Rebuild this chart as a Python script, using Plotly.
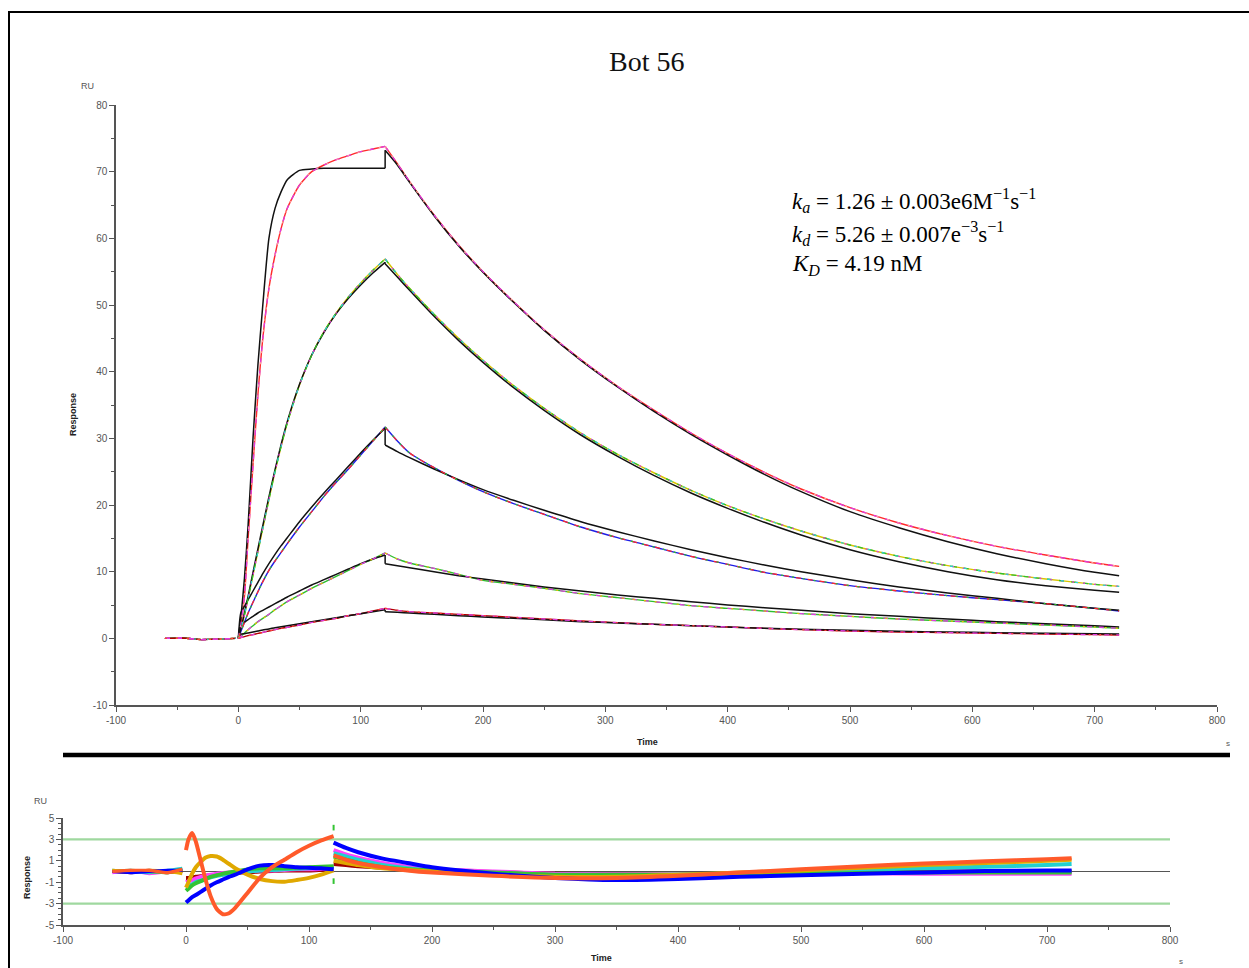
import plotly.graph_objects as go

# ---------------- Sensorgram data (RU vs s) ----------------
t_base = [-60, -45, -30, -15, -2]
t_assoc = [0, 2, 5, 8, 12, 16, 20, 25, 30, 35, 40, 50, 60, 70, 80, 90, 100, 110, 120]
t_diss = [120, 130, 140, 160, 180, 200, 225, 250, 280, 310, 340, 370, 400, 430, 460, 500, 540, 580, 620, 660, 700, 720]

base_resp = [0.0, 0.05, -0.2, -0.1, 0.0]

c1_assoc = [0, 2.0, 6.3, 15, 26, 36.5, 45, 52.5, 57.5, 61.5, 64.5, 68, 70, 71, 71.8, 72.4, 73, 73.4, 73.8]
c2_assoc = [0, 1.2, 3.5, 6, 9.5, 13, 16.5, 20.8, 25, 28.8, 32.3, 38, 42.5, 46, 48.8, 51.2, 53.3, 55.2, 56.9]
c3_assoc = [0, 1.0, 2.4, 3.8, 5.4, 7.0, 8.5, 10.2, 11.6, 12.9, 14.2, 16.7, 19.0, 21.3, 23.4, 25.4, 27.5, 29.6, 31.7]
c4_assoc = [0, 0.3, 0.8, 1.3, 1.9, 2.5, 3.0, 3.6, 4.3, 4.9, 5.5, 6.5, 7.5, 8.4, 9.3, 10.2, 11.1, 11.9, 12.8]
c5_assoc = [0, 0.1, 0.25, 0.4, 0.55, 0.75, 0.9, 1.1, 1.3, 1.5, 1.65, 2.0, 2.4, 2.7, 3.0, 3.4, 3.7, 4.1, 4.5]

c1_diss = [73.8, 71.2, 68.5, 63.5, 59, 55, 50.5, 46.3, 41.8, 37.8, 34.2, 30.8, 27.7, 24.9, 22.4, 19.6, 17.3, 15.4, 13.8, 12.5, 11.3, 10.8]
c2_diss = [56.9, 54.6, 52.5, 48.6, 45, 41.7, 37.9, 34.5, 30.8, 27.6, 24.8, 22.2, 19.9, 17.9, 16.1, 14, 12.3, 10.9, 9.8, 8.9, 8.1, 7.8]
c3_diss = [31.7, 29.6, 27.8, 25.6, 23.7, 22.0, 20.2, 18.6, 16.7, 15.1, 13.7, 12.3, 11.1, 9.9, 9.0, 7.9, 7.1, 6.4, 5.8, 5.2, 4.5, 4.1]
c4_diss = [12.8, 11.9, 11.3, 10.5, 9.6, 8.7, 8.1, 7.5, 6.7, 6.1, 5.5, 4.9, 4.5, 4.1, 3.7, 3.3, 2.9, 2.6, 2.3, 2.0, 1.7, 1.5]
c5_diss = [4.5, 4.2, 4.0, 3.8, 3.6, 3.4, 3.15, 2.9, 2.6, 2.35, 2.1, 1.9, 1.7, 1.5, 1.3, 1.1, 0.95, 0.85, 0.75, 0.65, 0.55, 0.5]

# fitted (black) curves
f1_assoc = [0, 3, 9, 17, 30, 41, 50, 60, 64.5, 67, 68.8, 70.2, 70.4, 70.5, 70.5, 70.5, 70.5, 70.5, 70.5]
f2_assoc = [0, 1.4, 3.8, 6.3, 9.9, 13.4, 16.9, 21.2, 25.3, 29.1, 32.5, 38.1, 42.5, 45.9, 48.7, 51.0, 53.0, 54.8, 56.4]
f3_assoc = [0, 3.8, 4.8, 5.8, 7.1, 8.4, 9.7, 11.2, 12.6, 13.9, 15.1, 17.5, 19.7, 21.8, 23.8, 25.8, 27.8, 29.7, 31.5]
f4_assoc = [0, 2.0, 2.4, 2.8, 3.3, 3.8, 4.2, 4.7, 5.2, 5.7, 6.2, 7.1, 8.0, 8.8, 9.6, 10.4, 11.2, 11.9, 12.5]
f5_assoc = [0, 0.6, 0.7, 0.8, 0.95, 1.1, 1.25, 1.4, 1.6, 1.75, 1.9, 2.2, 2.5, 2.8, 3.1, 3.4, 3.7, 4.0, 4.3]

f1_diss = [73.2, 71.0, 68.4, 63.4, 58.9, 54.9, 50.4, 46.2, 41.7, 37.7, 34.0, 30.6, 27.5, 24.6, 22.0, 19.0, 16.6, 14.5, 12.7, 11.2, 9.9, 9.4]
f2_diss = [56.2, 54.2, 52.2, 48.3, 44.7, 41.4, 37.6, 34.2, 30.5, 27.3, 24.4, 21.8, 19.5, 17.4, 15.5, 13.3, 11.5, 10.0, 8.8, 7.9, 7.2, 6.9]
f3_diss = [29.0, 28.0, 27.1, 25.4, 23.8, 22.3, 20.7, 19.2, 17.5, 16.0, 14.6, 13.3, 12.1, 11.0, 10.0, 8.8, 7.7, 6.8, 6.0, 5.2, 4.5, 4.2]
f4_diss = [11.2, 10.9, 10.6, 10.0, 9.4, 8.9, 8.3, 7.7, 7.1, 6.5, 6.0, 5.5, 5.0, 4.6, 4.2, 3.7, 3.3, 2.9, 2.5, 2.2, 1.9, 1.7]
f5_diss = [4.0, 3.9, 3.8, 3.6, 3.4, 3.2, 3.0, 2.8, 2.5, 2.3, 2.1, 1.9, 1.7, 1.5, 1.35, 1.2, 1.05, 0.95, 0.85, 0.75, 0.7, 0.65]

curve_colors = [
    ["#ff2a2a", "#e03ce0", "#ff9a9a"],
    ["#d8c400", "#2fbf2f", "#e03ce0", "#2ed0d0"],
    ["#1e1ee6", "#ff2a2a", "#2fbf2f"],
    ["#2fbf2f", "#e03ce0", "#e8c000"],
    ["#b00000", "#e03ce0", "#ff3a3a"],
]

# tick labels
x_tickvals = [-100, 0, 100, 200, 300, 400, 500, 600, 700, 800]
x_ticktext = ["-100", "0", "100", "200", "300", "400", "500", "600", "700", "800"]
y_tickvals = [-10, 0, 10, 20, 30, 40, 50, 60, 70, 80]
y_ticktext = ["-10", "0", "10", "20", "30", "40", "50", "60", "70", "80"]
yr_tickvals = [-5, -3, -1, 1, 3, 5]
yr_ticktext = ["-5", "-3", "-1", "1", "3", "5"]

# ---------------- Residual data ----------------
tr_base = [-60, -45, -30, -15, -3]
tr_assoc = [0, 2, 5, 8, 12, 16, 20, 25, 30, 35, 40, 50, 60, 70, 80, 90, 100, 110, 120]
tr_diss = [120, 130, 140, 160, 180, 200, 250, 300, 350, 400, 450, 500, 550, 600, 650, 700, 720]

res_base = {
    "darkred": [0.0, -0.1, 0.1, -0.1, 0.0],
    "magenta": [-0.1, 0.1, -0.2, 0.0, 0.2],
    "cyan": [0.1, 0.0, -0.1, 0.1, 0.3],
    "green": [0.0, 0.1, 0.0, -0.1, 0.2],
    "gold": [0.1, 0.0, 0.1, 0.0, -0.2],
    "blue": [0.0, -0.1, 0.0, 0.1, 0.1],
    "orange": [0.0, 0.1, 0.1, -0.1, 0.2],
}
res_assoc = {
    "darkred": [-0.6, -0.6, -0.55, -0.5, -0.45, -0.4, -0.35, -0.3, -0.25, -0.2, -0.15, -0.05, 0.0, 0.05, 0.1, 0.1, 0.1, 0.15, 0.2],
    "magenta": [-1.0, -0.9, -0.8, -0.65, -0.5, -0.4, -0.3, -0.2, -0.15, -0.1, -0.05, 0.0, 0.1, 0.1, 0.15, 0.2, 0.2, 0.25, 0.3],
    "cyan": [-1.5, -1.35, -1.2, -1.0, -0.85, -0.7, -0.55, -0.4, -0.3, -0.2, -0.1, 0.0, 0.1, 0.15, 0.2, 0.25, 0.3, 0.35, 0.4],
    "green": [-1.8, -1.6, -1.3, -1.1, -0.9, -0.7, -0.5, -0.35, -0.2, -0.1, 0.0, 0.2, 0.3, 0.3, 0.3, 0.35, 0.4, 0.45, 0.5],
    "gold": [-1.5, -1.0, -0.2, 0.4, 0.9, 1.3, 1.45, 1.4, 1.1, 0.7, 0.3, -0.3, -0.7, -0.9, -0.95, -0.8, -0.6, -0.3, 0.1],
    "blue": [-2.9, -2.7, -2.4, -2.2, -1.9, -1.6, -1.3, -1.0, -0.75, -0.5, -0.3, 0.2, 0.55, 0.6, 0.5, 0.4, 0.35, 0.3, 0.2],
    "orange": [2.0, 3.0, 3.6, 2.8, 1.0, -0.8, -2.3, -3.5, -4.0, -3.9, -3.4, -2.0, -0.6, 0.4, 1.1, 1.8, 2.4, 2.9, 3.3],
}
res_diss = {
    "darkred": [0.7, 0.6, 0.5, 0.35, 0.2, 0.1, -0.05, -0.2, -0.25, -0.3, -0.2, -0.1, -0.05, 0.0, 0.0, 0.0, 0.0],
    "magenta": [2.0, 1.6, 1.3, 0.8, 0.45, 0.2, 0.0, -0.2, -0.25, -0.3, -0.2, -0.1, -0.15, -0.2, -0.2, -0.2, -0.2],
    "cyan": [1.7, 1.4, 1.1, 0.6, 0.3, 0.1, -0.2, -0.4, -0.4, -0.3, -0.15, 0.0, 0.15, 0.3, 0.45, 0.6, 0.7],
    "green": [1.4, 1.1, 0.8, 0.4, 0.2, 0.1, -0.1, -0.3, -0.3, -0.3, -0.25, -0.2, -0.15, -0.1, -0.1, -0.1, -0.1],
    "gold": [1.0, 0.8, 0.6, 0.3, 0.15, 0.0, -0.3, -0.5, -0.5, -0.3, -0.1, 0.1, 0.35, 0.6, 0.8, 1.0, 1.1],
    "blue": [2.7, 2.2, 1.8, 1.2, 0.8, 0.4, -0.2, -0.6, -0.8, -0.7, -0.5, -0.35, -0.2, -0.1, 0.05, 0.1, 0.1],
    "orange": [1.5, 1.1, 0.8, 0.4, 0.1, -0.1, -0.4, -0.6, -0.6, -0.4, -0.1, 0.2, 0.5, 0.75, 0.95, 1.15, 1.25],
}
res_colors = {
    "darkred": "#a00000",
    "magenta": "#ff40ff",
    "cyan": "#22d0d0",
    "green": "#33c433",
    "gold": "#e0a800",
    "blue": "#0000ff",
    "orange": "#ff5a2a",
}
res_marks_t = [120, 120]
res_marks_v = [4.1, -0.9]

W, H = 1249, 968


def px(x):
    return x / W


def py(y):
    return 1 - y / H


fig = go.Figure()

assoc_all = [c1_assoc, c2_assoc, c3_assoc, c4_assoc, c5_assoc]
diss_all = [c1_diss, c2_diss, c3_diss, c4_diss, c5_diss]
fassoc_all = [f1_assoc, f2_assoc, f3_assoc, f4_assoc, f5_assoc]
fdiss_all = [f1_diss, f2_diss, f3_diss, f4_diss, f5_diss]


def add_line(xs, ys, color, width, dash="solid", xa="x", ya="y", shape="spline"):
    fig.add_trace(go.Scatter(
        x=xs, y=ys, mode="lines", xaxis=xa, yaxis=ya,
        line=dict(color=color, width=width, dash=dash, shape=shape, smoothing=0.6 if shape == "spline" else None),
        showlegend=False, hoverinfo="skip"))


# solid coloured data
for i in range(5):
    col = curve_colors[i][0]
    add_line(t_base, base_resp, col, 1.4, shape="linear")
    add_line(t_assoc, assoc_all[i], col, 1.4)
    add_line(t_diss, diss_all[i], col, 1.4)

# black fits
for i in range(5):
    add_line(t_assoc, fassoc_all[i], "#111111", 1.5)
    add_line(t_diss, fdiss_all[i], "#111111", 1.5)
    add_line([120, 120], [fassoc_all[i][-1], fdiss_all[i][0]], "#111111", 1.5, shape="linear")

# dashed replicate colours on top
dashes = ["solid", "5px,7px", "2px,9px", "3px,11px"]
for i in range(5):
    for j in range(1, len(curve_colors[i])):
        col = curve_colors[i][j]
        add_line(t_assoc, assoc_all[i], col, 1.3, dash=dashes[j])
        add_line(t_diss, diss_all[i], col, 1.3, dash=dashes[j])
        add_line(t_base, base_resp, col, 1.3, dash=dashes[j], shape="linear")

# ---------------- residual plot ----------------
add_line([-100, 800], [3, 3], "#9fd89f", 2.2, xa="x2", ya="y2", shape="linear")
add_line([-100, 800], [-3, -3], "#9fd89f", 2.2, xa="x2", ya="y2", shape="linear")
add_line([-60, 800], [0, 0], "#555555", 1.2, xa="x2", ya="y2", shape="linear")

for key in ["darkred", "magenta", "cyan", "green", "gold", "blue", "orange"]:
    col = res_colors[key]
    add_line(tr_base, res_base[key], col, 3.2, xa="x2", ya="y2")
    add_line(tr_assoc, res_assoc[key], col, 4.0, xa="x2", ya="y2")
    add_line(tr_diss, res_diss[key], col, 4.0, xa="x2", ya="y2")

fig.add_trace(go.Scatter(x=res_marks_t, y=res_marks_v, mode="markers", xaxis="x2", yaxis="y2",
                         marker=dict(color="#33c433", size=4, symbol="line-ns-open",
                                     line=dict(color="#33c433", width=2)),
                         showlegend=False, hoverinfo="skip"))

tickfont = dict(family="Liberation Sans, Arial, sans-serif", size=10, color="#555555")
axis_common = dict(showline=True, linecolor="#555555", linewidth=1.5, ticks="outside",
                   ticklen=5, tickwidth=1.3, tickcolor="#555555", showgrid=False, zeroline=False,
                   tickfont=tickfont, fixedrange=True, automargin=False)

fig.update_layout(
    width=W, height=H,
    margin=dict(l=0, r=0, t=0, b=0, autoexpand=False),
    paper_bgcolor="white", plot_bgcolor="white",
    xaxis=dict(domain=[px(116), px(1217)], range=[-100, 800], tickvals=x_tickvals, ticktext=x_ticktext,
               anchor="y", minor=dict(dtick=50, ticks="outside", ticklen=3, tickcolor="#555555"), **axis_common),
    yaxis=dict(domain=[py(705), py(105)], range=[-10, 80], tickvals=y_tickvals, ticktext=y_ticktext,
               anchor="x", minor=dict(dtick=5, ticks="outside", ticklen=3, tickcolor="#555555"), **axis_common),
    xaxis2=dict(domain=[px(63), px(1170)], range=[-100, 800], tickvals=x_tickvals, ticktext=x_ticktext,
                anchor="y2", minor=dict(dtick=50, ticks="outside", ticklen=3, tickcolor="#555555"), **axis_common),
    yaxis2=dict(domain=[py(925), py(818)], range=[-5, 5], tickvals=yr_tickvals, ticktext=yr_ticktext,
                anchor="x2", minor=dict(dtick=0.5, ticks="outside", ticklen=3, tickcolor="#555555"), **axis_common),
    showlegend=False,
)

fig.add_shape(type="rect", xref="paper", yref="paper", x0=px(9), x1=px(1262), y0=py(985), y1=py(12),
              line=dict(color="black", width=2), fillcolor="rgba(0,0,0,0)", layer="above")
fig.add_shape(type="line", xref="paper", yref="paper", x0=px(63), x1=px(1230), y0=py(755), y1=py(755),
              line=dict(color="black", width=4.5))

serif = "Liberation Serif, Times New Roman, serif"
small_bold = dict(family="Liberation Sans, Arial, sans-serif", size=9, color="#222222")


def ann(x, y, text, font, xanchor="center", yanchor="middle", angle=0):
    fig.add_annotation(x=px(x), y=py(y), xref="paper", yref="paper", text=text, showarrow=False,
                       font=font, xanchor=xanchor, yanchor=yanchor, textangle=angle)


ann(646, 62, "Bot 56", dict(family=serif, size=28, color="#111111"))
ann(790, 201, "<i>k<sub>a</sub></i> = 1.26 ± 0.003e6M<sup>−1</sup>s<sup>−1</sup>",
    dict(family=serif, size=23, color="black"), xanchor="left")
ann(790, 233, "<i>k<sub>d</sub></i> = 5.26 ± 0.007e<sup>−3</sup>s<sup>−1</sup>",
    dict(family=serif, size=23, color="black"), xanchor="left")
ann(790, 265, "<i>K<sub>D</sub></i> = 4.19 nM",
    dict(family=serif, size=23, color="black"), xanchor="left")

ann(87, 86, "RU", dict(family="Liberation Sans, Arial", size=9, color="#555555"))
ann(73, 415, "<b>Response</b>", small_bold, angle=-90)
ann(648, 742, "<b>Time</b>", small_bold)
ann(1228, 743, "s", dict(family="Liberation Sans, Arial", size=8, color="#555555"))

ann(40, 801, "RU", dict(family="Liberation Sans, Arial", size=9, color="#555555"))
ann(27, 878, "<b>Response</b>", small_bold, angle=-90)
ann(601, 958, "<b>Time</b>", small_bold)
ann(1181, 961, "s", dict(family="Liberation Sans, Arial", size=8, color="#555555"))

fig.write_html("out.html")
